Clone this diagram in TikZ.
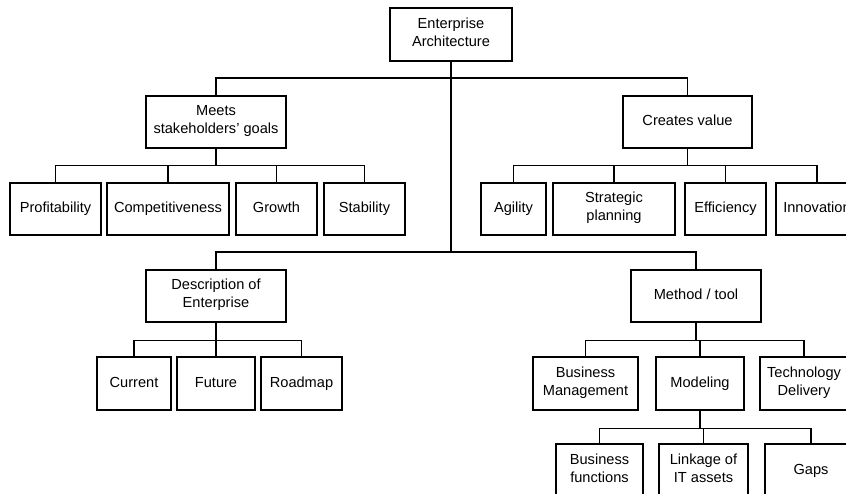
\documentclass[tikz,border=0pt]{standalone}
\usepackage{fontspec}
\setmainfont{Liberation Sans}
\tikzset{
      box/.style  = { draw, rectangle, align=center, inner sep=2pt,
                      minimum height=52pt, font=\fontsize{14.6}{18}\selectfont,
                      execute at begin node=\strut, execute at end node=\strut },
      wire/.style = { line width=1.2pt },
    }

\begin{document}
\begin{tikzpicture}[x=1pt, y=-1pt, line width=1.2pt]
      \useasboundingbox (0,0) rectangle (846,494);

      % Draw all levels
      \node[box, minimum width=122pt, minimum height=53pt] (ea) at (451,34.5) {Enterprise\\Architecture};

      \node[box, minimum width=140pt] (meets)   at (216,122)   {Meets\\stakeholders' goals};
      \node[box, minimum width=129pt] (creates) at (687.5,122) {Creates value};

      \node[box, minimum width=91pt]  (profit) at (55.5,209)  {Profitability};
      \node[box, minimum width=122pt] (compet) at (168,209)   {Competitiveness};
      \node[box, minimum width=81pt]  (growth) at (276.5,209) {Growth};
      \node[box, minimum width=81pt]  (stab)   at (364.5,209) {Stability};

      \node[box, minimum width=65pt]  (agil)   at (513.5,209) {Agility};
      \node[box, minimum width=122pt] (strat)  at (614,209)   {Strategic\\planning};
      \node[box, minimum width=81pt]  (effic)  at (725.5,209) {Efficiency};
      \node[box, minimum width=82pt]  (innov)  at (817,209)   {Innovation};

      \node[box, minimum width=140pt] (descr)  at (216,296)   {Description of\\Enterprise};
      \node[box, minimum width=130pt] (method) at (696,296)   {Method / tool};

      \node[box, minimum width=74pt, minimum height=53pt] (current) at (134,383.5)   {Current};
      \node[box, minimum width=78pt, minimum height=53pt] (future)  at (216,383.5)   {Future};
      \node[box, minimum width=81pt, minimum height=53pt] (roadmap) at (301.5,383.5) {Roadmap};

      \node[box, minimum width=105pt, minimum height=53pt] (bizman) at (585.5,383.5) {Business\\Management};
      \node[box, minimum width=88pt,  minimum height=53pt] (model)  at (700,383.5)   {Modeling};
      \node[box, minimum width=88pt,  minimum height=53pt] (tech)   at (804,383.5)   {Technology\\Delivery};

      \node[box, minimum width=87pt, minimum height=53pt] (bizfun) at (599.5,470.5) {Business\\functions};
      \node[box, minimum width=89pt, minimum height=53pt] (link)   at (703.5,470.5) {Linkage of\\IT assets};
      \node[box, minimum width=92pt, minimum height=53pt] (gaps)   at (811,470.5)   {Gaps};

      % Draw connections
      \coordinate (upper) at (ea.south |- 0,78);
      \coordinate (lower) at (ea.south |- 0,252);
      \draw[wire] (ea.south) -- (lower);
      \draw[wire] (upper) -| (meets.north) (upper) -| (creates.north);
      \draw[wire] (lower) -| (descr.north) (lower) -| (method.north);

      \foreach \kid in {profit, compet, growth, stab} {
        \draw[wire] (meets.south) -- ++(0,17) -| (\kid.north);
      }
      \foreach \kid in {agil, strat, effic, innov} {
        \draw[wire] (creates.south) -- ++(0,17) -| (\kid.north);
      }
      \foreach \kid in {current, future, roadmap} {
        \draw[wire] (descr.south) -- ++(0,18) -| (\kid.north);
      }
      \foreach \kid in {bizman, model, tech} {
        \draw[wire] (method.south) -- ++(0,18) -| (\kid.north);
      }
      \foreach \kid in {bizfun, link, gaps} {
        \draw[wire] (model.south) -- ++(0,18) -| (\kid.north);
      }
\end{tikzpicture}
\end{document}
